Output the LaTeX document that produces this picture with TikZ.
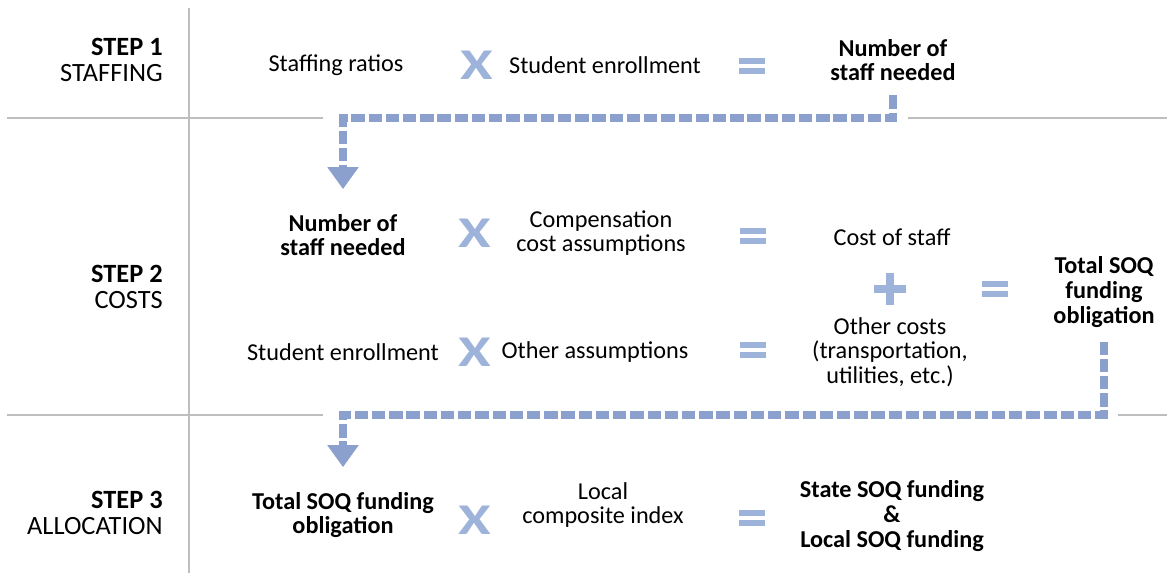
\documentclass[tikz,border=0pt]{standalone}
\usepackage{fontspec}
\setmainfont{Carlito}
\usetikzlibrary{arrows.meta, positioning}
\definecolor{opblue}{RGB}{158, 179, 218}
\definecolor{flowblue}{RGB}{139, 160, 204}
\definecolor{rulegray}{RGB}{190, 190, 190}

\begin{document}
\begin{tikzpicture}[
    x=0.02cm, y=-0.02cm,
    txt/.style={align=center, inner sep=0pt, font=\fontsize{13.8}{14}\selectfont},
    bold/.style={align=center, inner sep=0pt, font=\fontsize{13.8}{14}\selectfont\bfseries},
    steplabel/.style={align=right, anchor=east, inner sep=0pt, font=\fontsize{15}{15}\selectfont},
    times/.style={inner sep=0pt, text=opblue, font=\fontsize{25}{25}\selectfont\bfseries},
    divider/.style={rulegray, line width=1.1pt},
    flow/.style={flowblue, line width=4pt, dash pattern=on 7.6pt off 2.2pt, -{Triangle[width=17pt, length=12.5pt]}},
    eqsign/.pic={\fill[opblue] (-13,-8) rectangle (13,-2); \fill[opblue] (-13,2) rectangle (13,8);},
    plussign/.pic={\fill[opblue] (-16,-4) rectangle (16,4); \fill[opblue] (-4,-16) rectangle (4,16);}
]
    \useasboundingbox (0,0) rectangle (1167,573);

    % Grid lines
    \coordinate (cut1) at (0,118);
    \coordinate (cut2) at (0,415);
    \draw[divider] (189,8) -- (189,573);
    \draw[divider] (7,118) -- (323,118);
    \draw[divider] (908,118) -- (1167,118);
    \draw[divider] (7,415) -- (323,415);
    \draw[divider] (1118,415) -- (1167,415);

    % Step labels
    \node[steplabel] (step1) at (163,60) {\textbf{STEP 1}\\STAFFING};
    \node[steplabel] (step2) at (163,287) {\textbf{STEP 2}\\COSTS};
    \node[steplabel] (step3) at (163,513) {\textbf{STEP 3}\\ALLOCATION};

    % Nodes - step 1
    \node[txt] (ratios) at (336,65) {Staffing ratios};
    \node[times] (x1) at (477,65) {\scalebox{1.35}[1]{X}};
    \node[txt] (enroll1) at (605,65) {Student enrollment};
    \pic at (752,66) {eqsign};
    \node[bold] (staffneed1) at (893,60) {Number of\\staff needed};

    % Nodes - step 2, upper row
    \node[bold] (staffneed2) at (343,235) {Number of\\staff needed};
    \node[times] (x2) at (475,233) {\scalebox{1.35}[1]{X}};
    \node[txt] (comp) at (601,233) {Compensation\\cost assumptions};
    \pic at (753,236) {eqsign};
    \node[txt] (coststaff) at (892,237) {Cost of staff};

    % Nodes - step 2, lower row
    \node[txt] (enroll2) at (343,352) {Student enrollment};
    \node[times] (x3) at (475,352) {\scalebox{1.35}[1]{X}};
    \node[txt] (other) at (595,352) {Other assumptions};
    \pic at (753,350) {eqsign};
    \node[txt] (othercost) at (890,352) {Other costs\\(transportation,\\utilities, etc.)};

    % Sum of both rows
    \pic at (890,289) {plussign};
    \pic at (995,289) {eqsign};
    \node[bold] (total) at (1104,292) {Total SOQ\\funding\\obligation};

    % Nodes - step 3
    \node[bold] (totalobl) at (343,515) {Total SOQ funding\\obligation};
    \node[times] (x4) at (475,520) {\scalebox{1.35}[1]{X}};
    \node[txt] (lci) at (603,505) {Local\\composite index};
    \pic at (752,518) {eqsign};
    \node[bold] (stateloc) at (892,516) {State SOQ funding\\\&\\Local SOQ funding};

    % Arrows
    \draw[flow] ([yshift=-8pt]staffneed1.south) |- (staffneed2.north |- cut1) -- ([yshift=14pt]staffneed2.north);
    \draw[flow] ([yshift=-8pt]total.south) |- (totalobl.north |- cut2) -- ([yshift=14pt]totalobl.north);
\end{tikzpicture}
\end{document}
